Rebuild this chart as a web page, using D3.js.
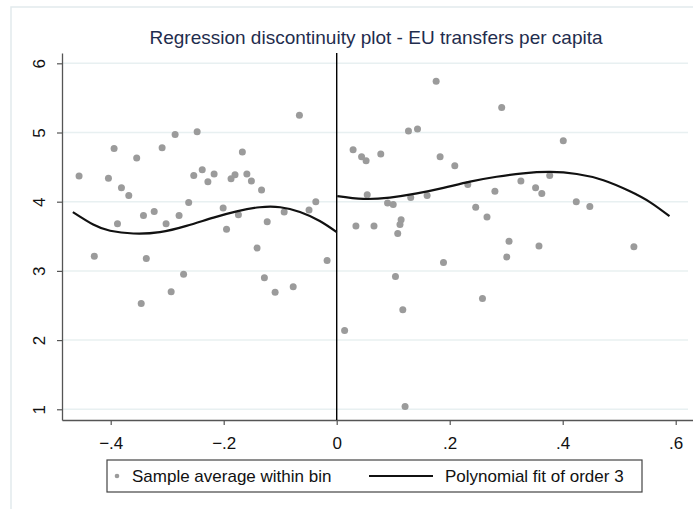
<!DOCTYPE html>
<html>
<head>
<meta charset="utf-8">
<script src="https://cdn.jsdelivr.net/npm/d3@7"></script>
<style>
  body { margin: 0; background: #fff; }
  text { font-family: "Liberation Sans", Arial, sans-serif; }
</style>
</head>
<body>
<div id="chart"></div>
<script>
// bin averages, left of the cutoff
const leftX = [-0.456, -0.404, -0.394, -0.381, -0.388, -0.368, -0.354, -0.342, -0.323, -0.309,
  -0.302, -0.286, -0.279, -0.262, -0.253, -0.247, -0.238, -0.228, -0.217, -0.201,
  -0.195, -0.187, -0.180, -0.174, -0.167, -0.159, -0.151, -0.133, -0.123, -0.141,
  -0.093, -0.066, -0.049, -0.037,
  -0.429, -0.337, -0.346, -0.293, -0.271, -0.128, -0.109, -0.077, -0.017];
const leftY = [4.37, 4.34, 4.77, 4.20, 3.68, 4.09, 4.63, 3.80, 3.86, 4.78,
  3.68, 4.97, 3.80, 3.99, 4.38, 5.01, 4.46, 4.29, 4.40, 3.91,
  3.60, 4.33, 4.39, 3.81, 4.72, 4.40, 4.30, 4.17, 3.71, 3.33,
  3.85, 5.25, 3.88, 4.00,
  3.21, 3.18, 2.53, 2.70, 2.95, 2.90, 2.69, 2.77, 3.15];

// bin averages, right of the cutoff
const rightX = [0.029, 0.044, 0.052, 0.078, 0.054, 0.034, 0.066, 0.090, 0.100, 0.114,
  0.112, 0.108, 0.127, 0.143, 0.131, 0.160, 0.176, 0.183, 0.209, 0.232,
  0.246, 0.266, 0.280, 0.292, 0.305, 0.326, 0.352, 0.363, 0.358, 0.377,
  0.401, 0.424, 0.448, 0.526,
  0.189, 0.301, 0.104, 0.258, 0.117, 0.014, 0.121];
const rightY = [4.75, 4.65, 4.59, 4.69, 4.10, 3.65, 3.65, 3.98, 3.96, 3.74,
  3.67, 3.54, 5.02, 5.05, 4.06, 4.09, 5.74, 4.65, 4.52, 4.25,
  3.92, 3.78, 4.15, 5.36, 3.43, 4.30, 4.20, 4.12, 3.36, 4.38,
  4.88, 4.00, 3.93, 3.35,
  3.12, 3.20, 2.92, 2.60, 2.44, 2.14, 1.04];

// cubic fit
const fitLeftX = [-0.467, -0.431, -0.401, -0.360, -0.313, -0.266, -0.218, -0.177, -0.136, -0.100, -0.065, -0.030, 0];
const fitLeftY = [3.85, 3.67, 3.58, 3.54, 3.56, 3.65, 3.77, 3.86, 3.92, 3.92, 3.85, 3.72, 3.56];
const fitRightX = [0.001, 0.047, 0.094, 0.142, 0.189, 0.236, 0.283, 0.330, 0.378, 0.425, 0.472, 0.519, 0.555, 0.589];
const fitRightY = [4.08, 4.04, 4.06, 4.12, 4.20, 4.29, 4.36, 4.41, 4.43, 4.40, 4.31, 4.15, 3.99, 3.79];

const xTicks = [-0.4, -0.2, 0, 0.2, 0.4, 0.6];
const yTicks = [1, 2, 3, 4, 5, 6];

const titleText = 'Regression discontinuity plot - EU transfers per capita';
const legendLabels = ['Sample average within bin', 'Polynomial fit of order 3'];

const width = 693, height = 509;
const plot = {left: 62, right: 693, top: 53, bottom: 420};

const svg = d3.select('#chart').append('svg')
    .attr('width', width)
    .attr('height', height);

// faint outer frame
svg.append('rect')
    .attr('x', 11).attr('y', 7)
    .attr('width', 700).attr('height', 520)
    .attr('fill', 'none')
    .attr('stroke', '#e2eaed')
    .attr('stroke-width', 1.5);

const x = d3.scaleLinear().domain([-0.4862, 0.6306]).range([plot.left, plot.right]);
const y = d3.scaleLinear().domain([0.845, 6.149]).range([plot.bottom, plot.top]);

// gridlines
svg.append('g').selectAll('line')
    .data(yTicks)
    .join('line')
    .attr('x1', plot.left).attr('x2', 688)
    .attr('y1', d => y(d)).attr('y2', d => y(d))
    .attr('stroke', '#e8f0f1')
    .attr('stroke-width', 1.5);

const stataFmt = d => d === 0 ? '0' : d3.format('.1f')(d).replace('0.', '.');

const xAxis = svg.append('g')
    .attr('transform', `translate(0,${plot.bottom})`)
    .call(d3.axisBottom(x).tickValues(xTicks).tickFormat(stataFmt).tickSize(5).tickSizeOuter(0));
xAxis.select('.domain').attr('stroke', '#555').attr('stroke-width', 1.3);
xAxis.selectAll('.tick line').attr('stroke', '#555').attr('stroke-width', 1.2);
xAxis.selectAll('.tick text')
    .attr('y', 29).attr('dy', 0)
    .attr('font-size', 17)
    .attr('fill', '#111');

const yAxis = svg.append('g')
    .attr('transform', `translate(${plot.left},0)`)
    .call(d3.axisLeft(y).tickValues(yTicks).tickFormat(d3.format('d')).tickSize(5).tickSizeOuter(0));
yAxis.select('.domain').attr('stroke', '#555').attr('stroke-width', 1.3);
yAxis.selectAll('.tick line').attr('stroke', '#555').attr('stroke-width', 1.2);
yAxis.selectAll('.tick text')
    .attr('x', null).attr('dy', null)
    .attr('transform', 'translate(-17,0) rotate(-90)')
    .attr('text-anchor', 'middle')
    .attr('font-size', 17)
    .attr('fill', '#111');

// cutoff line
svg.append('line')
    .attr('x1', x(0)).attr('x2', x(0))
    .attr('y1', plot.top).attr('y2', plot.bottom)
    .attr('stroke', '#000')
    .attr('stroke-width', 1.4);

const points = leftX.map((d, i) => [d, leftY[i]])
    .concat(rightX.map((d, i) => [d, rightY[i]]));

svg.append('g').selectAll('circle')
    .data(points)
    .join('circle')
    .attr('cx', d => x(d[0]))
    .attr('cy', d => y(d[1]))
    .attr('r', 3.5)
    .attr('fill', '#9b9b9b');

const line = d3.line()
    .x(d => x(d[0]))
    .y(d => y(d[1]))
    .curve(d3.curveNatural);

[[fitLeftX, fitLeftY], [fitRightX, fitRightY]].forEach(([xs, ys]) => {
    svg.append('path')
        .datum(xs.map((d, i) => [d, ys[i]]))
        .attr('d', line)
        .attr('fill', 'none')
        .attr('stroke', '#111')
        .attr('stroke-width', 2.2);
});

// title
svg.append('text')
    .attr('x', 376).attr('y', 44)
    .attr('text-anchor', 'middle')
    .attr('font-size', 19)
    .attr('fill', '#1f2d4e')
    .text(titleText);

// legend
const legend = svg.append('g');
legend.append('rect')
    .attr('x', 107).attr('y', 460)
    .attr('width', 535).attr('height', 32)
    .attr('fill', '#fff')
    .attr('stroke', '#444')
    .attr('stroke-width', 1.2);
legend.append('circle')
    .attr('cx', 117).attr('cy', 476)
    .attr('r', 2.3)
    .attr('fill', '#9b9b9b');
legend.append('text')
    .attr('x', 132).attr('y', 482)
    .attr('font-size', 17)
    .attr('fill', '#111')
    .text(legendLabels[0]);
legend.append('line')
    .attr('x1', 369).attr('x2', 433)
    .attr('y1', 476).attr('y2', 476)
    .attr('stroke', '#111')
    .attr('stroke-width', 2.2);
legend.append('text')
    .attr('x', 445).attr('y', 482)
    .attr('font-size', 17)
    .attr('fill', '#111')
    .text(legendLabels[1]);
</script>
</body>
</html>
